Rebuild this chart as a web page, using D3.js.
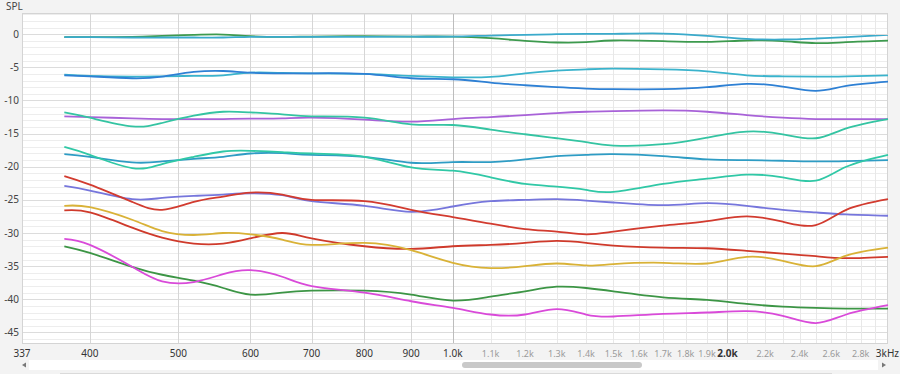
<!DOCTYPE html>
<html><head><meta charset="utf-8">
<script src="https://cdn.jsdelivr.net/npm/d3@7"></script>
<style>
html,body{margin:0;padding:0;background:#f3f3f3;}
svg{display:block;font-family:"Noto Sans","Open Sans",sans-serif;}
</style></head>
<body><svg id="c" width="900" height="374"></svg>
<script>
const freqs = [375,400,445,480,520,560,600,650,700,800,900,1000,1100,1200,1300,1400,1500,1700,1900,2100,2300,2500,2700,3000];

const sTeal      = [-0.45,-0.45,-0.5,-0.5,-0.5,-0.5,-0.4,-0.4,-0.4,-0.4,-0.38,-0.36,-0.2,-0.1,0.0,0.04,0.05,0.1,-0.25,-0.7,-0.8,-0.65,-0.45,-0.1];
const sGreenTop  = [-0.45,-0.45,-0.4,-0.25,-0.1,-0.05,-0.3,-0.4,-0.35,-0.3,-0.35,-0.36,-0.6,-1.0,-1.25,-1.2,-0.95,-1.05,-1.15,-0.95,-1.05,-1.35,-1.2,-0.98];
const sBlue      = [-6.2,-6.35,-6.65,-6.4,-5.7,-5.55,-5.8,-5.9,-5.9,-6.0,-6.65,-6.8,-7.3,-7.7,-8.0,-8.2,-8.3,-8.3,-8.0,-7.5,-7.9,-8.55,-7.8,-7.15];
const sCyan      = [-6.1,-6.3,-6.4,-6.35,-6.3,-6.2,-5.8,-5.85,-5.9,-6.0,-6.3,-6.5,-6.45,-5.9,-5.5,-5.3,-5.2,-5.3,-5.6,-6.2,-6.35,-6.4,-6.35,-6.2];
const sPurple    = [-12.4,-12.5,-12.7,-12.8,-12.8,-12.8,-12.75,-12.7,-12.6,-12.9,-13.2,-12.8,-12.5,-12.2,-11.9,-11.7,-11.6,-11.5,-11.7,-12.2,-12.6,-12.8,-12.8,-12.8];
const sTurqA     = [-11.8,-12.6,-13.9,-13.4,-12.3,-11.7,-11.8,-12.1,-12.4,-12.6,-13.6,-13.7,-14.4,-15.1,-15.7,-16.3,-16.8,-16.6,-15.6,-14.7,-15.1,-15.7,-14.2,-12.8];
const sTealBlue  = [-18.1,-18.5,-19.35,-19.2,-18.8,-18.5,-18.0,-17.95,-18.2,-18.5,-19.4,-19.3,-19.3,-18.9,-18.4,-18.2,-18.1,-18.4,-18.9,-19.0,-19.1,-19.2,-19.15,-19.0];
const sTurqB     = [-17.0,-18.2,-20.2,-19.6,-18.5,-17.7,-17.6,-17.8,-18.0,-18.5,-20.1,-20.6,-21.6,-22.6,-23.0,-23.5,-23.8,-22.6,-21.8,-21.2,-21.6,-22.1,-20.0,-18.2];
const sSlate     = [-22.9,-23.6,-24.9,-24.7,-24.4,-24.2,-24.0,-24.3,-25.2,-25.9,-26.8,-26.0,-25.2,-25.0,-24.9,-25.1,-25.4,-25.8,-25.5,-25.9,-26.5,-26.9,-27.2,-27.4];
const sRedA      = [-21.4,-22.7,-25.3,-26.5,-25.3,-24.5,-23.9,-24.2,-25.0,-25.2,-26.5,-27.6,-28.6,-29.4,-29.8,-30.2,-29.8,-28.9,-28.2,-27.5,-28.3,-28.8,-26.5,-24.9];
const sRedB      = [-26.6,-26.9,-29.2,-30.7,-31.6,-31.6,-30.8,-30.0,-30.8,-32.0,-32.4,-32.0,-31.8,-31.5,-31.2,-31.5,-31.9,-32.2,-32.3,-32.7,-33.1,-33.5,-33.8,-33.6];
const sMustard   = [-25.9,-26.1,-28.0,-29.7,-30.3,-30.0,-30.2,-31.0,-31.8,-31.5,-32.6,-34.5,-35.3,-35.0,-34.6,-34.9,-34.7,-34.5,-34.6,-33.6,-34.2,-35.0,-33.4,-32.2];
const sGreenLow  = [-32.0,-33.0,-35.1,-36.3,-37.2,-38.3,-39.3,-39.0,-38.7,-38.7,-39.3,-40.2,-39.6,-38.8,-38.1,-38.3,-38.8,-39.7,-40.1,-40.7,-41.1,-41.3,-41.4,-41.4];
const sMagenta   = [-30.9,-31.8,-35.1,-37.3,-37.4,-36.2,-35.6,-36.6,-38.0,-39.0,-40.3,-41.3,-42.3,-42.3,-41.5,-42.3,-42.6,-42.2,-42.0,-41.8,-42.5,-43.6,-42.3,-40.9];

const series = [
  {v:sGreenTop, c:"#3d9a4e"},
  {v:sTeal, c:"#3aaacb"},
  {v:sCyan, c:"#3ab3cc"},
  {v:sBlue, c:"#2e80d4"},
  {v:sPurple, c:"#a862d8"},
  {v:sTurqA, c:"#34c4a2"},
  {v:sTealBlue, c:"#2e9cc4"},
  {v:sTurqB, c:"#30c8a6"},
  {v:sSlate, c:"#7676dc"},
  {v:sRedA, c:"#d23b2f"},
  {v:sRedB, c:"#cf3a2b"},
  {v:sMustard, c:"#d9b237"},
  {v:sGreenLow, c:"#3c9545"},
  {v:sMagenta, c:"#d94ad9"}
];

const yTicks = [0,-5,-10,-15,-20,-25,-30,-35,-40,-45];
const xGrid = [400,500,600,700,800,900,1000,1100,1200,1300,1400,1500,1600,1700,1800,1900,2000,2100,2200,2300,2400,2500,2600,2700,2800,2900];
const xLabels = [
  {f:337,t:"337",k:"dark"},{f:400,t:"400",k:"dark"},{f:500,t:"500",k:"dark"},{f:600,t:"600",k:"dark"},
  {f:700,t:"700",k:"dark"},{f:800,t:"800",k:"dark"},{f:900,t:"900",k:"dark"},{f:1000,t:"1.0k",k:"dark"},
  {f:1100,t:"1.1k",k:"light"},{f:1200,t:"1.2k",k:"light"},{f:1300,t:"1.3k",k:"light"},{f:1400,t:"1.4k",k:"light"},
  {f:1500,t:"1.5k",k:"light"},{f:1600,t:"1.6k",k:"light"},{f:1700,t:"1.7k",k:"light"},{f:1800,t:"1.8k",k:"light"},
  {f:1900,t:"1.9k",k:"light"},{f:2000,t:"2.0k",k:"bold"},{f:2200,t:"2.2k",k:"light"},{f:2400,t:"2.4k",k:"light"},
  {f:2600,t:"2.6k",k:"light"},{f:2800,t:"2.8k",k:"light"},{f:3000,t:"3kHz",k:"end"}
];

const L=22, R=888, T=13, B=344;
const svg = d3.select("#c");
const x = d3.scaleLog().domain([337,3000]).range([L,R]);
const y = d3.scaleLinear().domain([3.2,-46.75]).range([T,B]);

svg.append("rect").attr("x",L).attr("y",T).attr("width",R-L).attr("height",B-T).attr("fill","#fff");

// horizontal grid
const hg = svg.append("g");
for (let v=3; v>=-46; v--) {
  const major = v % 5 === 0;
  hg.append("line").attr("x1",L).attr("x2",R).attr("y1",Math.round(y(v))+0.5).attr("y2",Math.round(y(v))+0.5)
    .attr("stroke", major ? "#dcdcdc" : "#ededed").attr("stroke-width",1);
}
// vertical grid
const vg = svg.append("g");
xGrid.forEach(f=>{
  let col = "#e8e8e8";
  if (f<1000) col = "#d6d6d6";
  if (f===1000) col = "#bdbdbd";
  if (f===2000) col = "#d6d6d6";
  vg.append("line").attr("x1",Math.round(x(f))+0.5).attr("x2",Math.round(x(f))+0.5).attr("y1",T).attr("y2",B)
    .attr("stroke",col).attr("stroke-width",1);
});
svg.append("rect").attr("x",L+0.5).attr("y",T+0.5).attr("width",R-L-1).attr("height",B-T-1)
  .attr("fill","none").attr("stroke","#d4d4d4");

// curves
const line = d3.line().x((d,i)=>x(freqs[i])).y(d=>y(d)).curve(d3.curveNatural);
svg.append("g").selectAll("path").data(series).join("path")
  .attr("d",d=>line(d.v)).attr("fill","none").attr("stroke",d=>d.c).attr("stroke-width",1.8)
  .attr("stroke-linejoin","round");

// y labels
svg.append("g").selectAll("text").data(yTicks).join("text")
  .attr("x",19).attr("y",d=>y(d)+3.5).attr("text-anchor","end")
  .attr("font-size",10).attr("fill","#444").text(d=>d);
svg.append("text").attr("x",6).attr("y",10).attr("font-size",10).attr("fill","#444").text("SPL");

// x labels
svg.append("g").selectAll("text").data(xLabels).join("text")
  .attr("x",d=>d.k==="end"?899:x(d.f)).attr("y",357)
  .attr("text-anchor",d=>d.k==="end"?"end":"middle")
  .attr("font-size",d=>d.k==="light"?9:10)
  .attr("font-weight",d=>d.k==="bold"?"bold":"normal")
  .attr("fill",d=>d.k==="light"?"#9a9a9a":"#333")
  .text(d=>d.t);

// scrollbar
svg.append("rect").attr("x",29).attr("y",360).attr("width",849).attr("height",10).attr("fill","#fff");
svg.append("rect").attr("x",462).attr("y",362).attr("width",180).attr("height",6).attr("rx",3).attr("fill","#c9c9c9");
svg.append("path").attr("d","M22,365 L26,362.5 L26,367.5 Z").attr("fill","#777");
svg.append("path").attr("d","M886,365 L882,362.5 L882,367.5 Z").attr("fill","#777");
svg.append("line").attr("x1",60).attr("x2",832).attr("y1",373.5).attr("y2",373.5).attr("stroke","#dadada");
</script>
</body></html>
